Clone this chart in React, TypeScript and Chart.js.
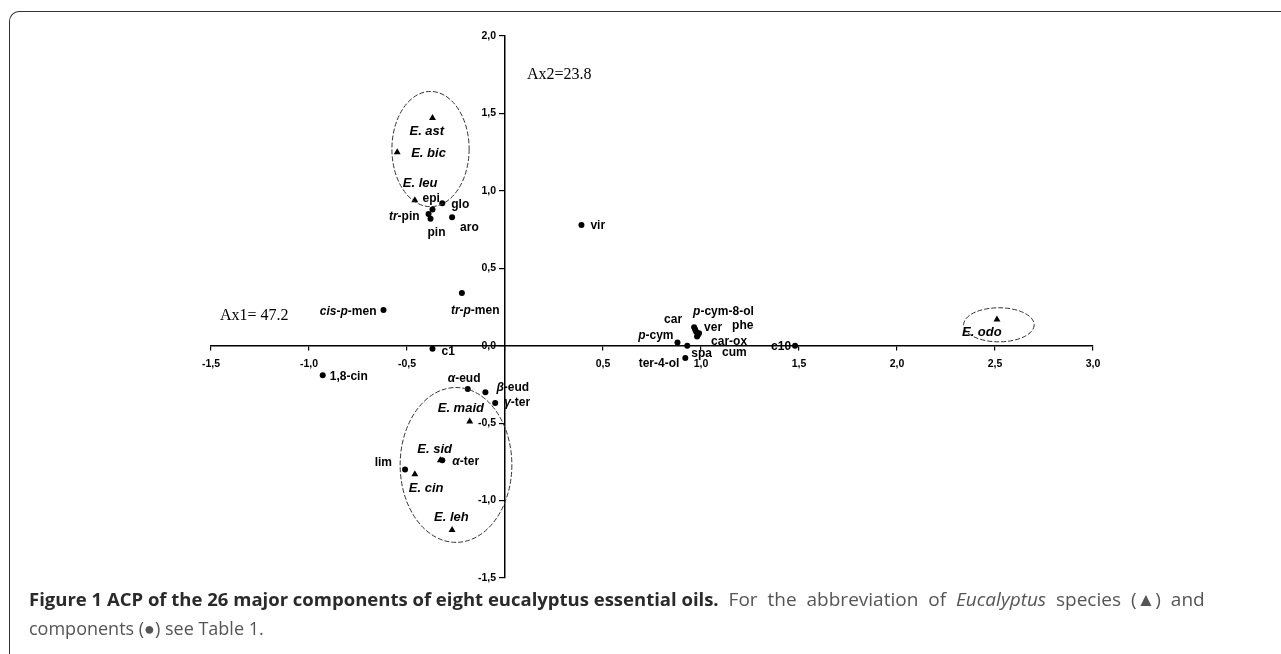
import React, { useEffect, useRef } from "react";
import { Chart, registerables } from "chart.js";

Chart.register(...registerables);

// ---- data ----
const xTicks = [-1.5, -1, -0.5, 0, 0.5, 1, 1.5, 2, 2.5, 3];
const yTicks = [-1.5, -1, -0.5, 0, 0.5, 1, 1.5, 2];

const speciesNames = ["E. ast", "E. bic", "E. leu", "E. maid", "E. sid", "E. cin", "E. leh", "E. odo"];
const speciesX = [-0.37, -0.55, -0.46, -0.18, -0.33, -0.46, -0.27, 2.51];
const speciesY = [1.47, 1.25, 0.94, -0.49, -0.74, -0.83, -1.19, 0.17];

// "_" toggles italic inside a label
const componentNames = [
  "epi", "glo", "_tr_-pin", "pin", "aro", "vir", "_tr_-_p_-men", "_cis_-_p_-men", "c1", "1,8-cin",
  "_α_-eud", "_β_-eud", "_γ_-ter", "_α_-ter", "lim", "_p_-cym", "spa", "ter-4-ol",
  "car", "_p_-cym-8-ol", "ver", "phe", "car-ox", "cum", "c10",
];
const componentX = [
  -0.37, -0.32, -0.39, -0.38, -0.27, 0.39, -0.22, -0.62, -0.37, -0.93,
  -0.19, -0.1, -0.05, -0.32, -0.51, 0.88, 0.93, 0.92,
  0.965, 0.97, 0.975, 0.985, 0.98, 0.99, 1.48,
];
const componentY = [
  0.88, 0.92, 0.85, 0.82, 0.83, 0.78, 0.34, 0.23, -0.02, -0.19,
  -0.28, -0.3, -0.37, -0.74, -0.8, 0.02, 0.0, -0.08,
  0.12, 0.105, 0.09, 0.07, 0.06, 0.08, 0.0,
];

// group ellipses (data units)
const ellipseCX = [-0.38, -0.25, 2.52];
const ellipseCY = [1.27, -0.77, 0.135];
const ellipseRX = [0.197, 0.285, 0.18];
const ellipseRY = [0.372, 0.5, 0.11];

// axis inertia notes
const noteTexts = ["Ax1= 47.2", "Ax2=23.8"];
const noteX = [-1.454, 0.112];
const noteY = [0.19, 1.75];

// label placement (pixel offsets from the mark), kept apart from the data
const speciesLabelPos: [number, number, string][] = [
  [-23, 13, "left"], [14, 1, "left"], [-12, -17, "left"], [-32, -13, "left"],
  [-23, -11, "left"], [-6, 14, "left"], [-18, -13, "left"], [-35, 13, "left"],
];
const componentLabelPos: [number, number, string][] = [
  [-10, -11, "left"], [9, 1, "left"], [-9, 3, "right"], [-3, 14, "left"], [8, 11, "left"],
  [9, 1, "left"], [-11, 18, "left"], [-7, 2, "right"], [9, 3, "left"], [7, 2, "left"],
  [-20, -10, "left"], [11, -4, "left"], [9, 0, "left"], [10, 1, "left"], [-13, -7, "right"],
  [-4, -7, "right"], [4, 8, "left"], [-6, 6, "right"],
  [-12, -7, "right"], [-2, -18, "left"], [8, -4, "left"], [34, -9, "left"], [14, 5, "left"],
  [23, 19, "left"], [-4, 1, "right"],
];

const fmt = (v: number) => v.toFixed(1).replace(".", ",");
const TICK_FONT = 'bold 10.5px "Liberation Sans", Arial, sans-serif';

function drawRich(ctx: CanvasRenderingContext2D, text: string, x: number, y: number, align: string, size: number, allItalic: boolean) {
  const parts = text.split("_");
  const fontFor = (it: boolean) => `${it ? "italic " : ""}bold ${size}px "Liberation Sans", Arial, sans-serif`;
  let total = 0;
  parts.forEach((p, i) => {
    ctx.font = fontFor(allItalic || i % 2 === 1);
    total += ctx.measureText(p).width;
  });
  let cx = align === "right" ? x - total : x;
  ctx.textAlign = "left";
  ctx.textBaseline = "middle";
  parts.forEach((p, i) => {
    ctx.font = fontFor(allItalic || i % 2 === 1);
    ctx.fillText(p, cx, y);
    cx += ctx.measureText(p).width;
  });
}

const overlayPlugin = {
  id: "overlay",
  afterDatasetsDraw(chart: any) {
    const ctx: CanvasRenderingContext2D = chart.ctx;
    const xs = chart.scales.x;
    const ys = chart.scales.y;
    ctx.save();
    // y tick labels, to the left of the centred axis
    ctx.fillStyle = "#000";
    ctx.font = TICK_FONT;
    ctx.textAlign = "right";
    ctx.textBaseline = "middle";
    const axisX = xs.getPixelForValue(0);
    ys.ticks.forEach((t: any) => {
      ctx.fillText(fmt(t.value), axisX - 9, ys.getPixelForValue(t.value));
    });
    // ellipses
    ctx.strokeStyle = "#333";
    ctx.lineWidth = 1;
    ctx.setLineDash([5, 2]);
    for (let i = 0; i < ellipseCX.length; i++) {
      const cx = xs.getPixelForValue(ellipseCX[i]);
      const cy = ys.getPixelForValue(ellipseCY[i]);
      const rx = Math.abs(xs.getPixelForValue(ellipseCX[i] + ellipseRX[i]) - cx);
      const ry = Math.abs(ys.getPixelForValue(ellipseCY[i] + ellipseRY[i]) - cy);
      ctx.beginPath();
      ctx.ellipse(cx, cy, rx, ry, 0, 0, Math.PI * 2);
      ctx.stroke();
    }
    ctx.setLineDash([]);
    // species labels
    const m0 = chart.getDatasetMeta(0);
    m0.data.forEach((el: any, i: number) => {
      const [dx, dy, al] = speciesLabelPos[i];
      drawRich(ctx, speciesNames[i], el.x + dx, el.y + dy, al, 13, true);
    });
    const m1 = chart.getDatasetMeta(1);
    m1.data.forEach((el: any, i: number) => {
      const [dx, dy, al] = componentLabelPos[i];
      drawRich(ctx, componentNames[i], el.x + dx, el.y + dy, al, 12, false);
    });
    // notes
    ctx.font = '16px "Liberation Serif", "Times New Roman", serif';
    ctx.textAlign = "left";
    ctx.textBaseline = "middle";
    noteTexts.forEach((t, i) => {
      ctx.fillText(t, xs.getPixelForValue(noteX[i]), ys.getPixelForValue(noteY[i]));
    });
    ctx.restore();
  },
};

export default function App() {
  const ref = useRef<HTMLCanvasElement>(null);
  useEffect(() => {
    if (!ref.current) return;
    const tickFont = { family: '"Liberation Sans", Arial, sans-serif', size: 10.5, weight: "bold" as const };
    const chart = new Chart(ref.current, {
      type: "scatter",
      data: {
        datasets: [
          {
            label: "species",
            data: speciesX.map((x, i) => ({ x, y: speciesY[i] })),
            pointStyle: "triangle",
            pointRadius: 4,
            backgroundColor: "#000",
            borderColor: "#000",
            borderWidth: 0,
            clip: false as any,
          },
          {
            label: "components",
            data: componentX.map((x, i) => ({ x, y: componentY[i] })),
            pointStyle: "circle",
            pointRadius: 3,
            backgroundColor: "#000",
            borderColor: "#000",
            borderWidth: 0,
            clip: false as any,
          },
        ],
      },
      options: {
        animation: false,
        responsive: false,
        maintainAspectRatio: false,
        layout: { padding: { left: 211, right: 188, top: 36, bottom: 12 } },
        plugins: { legend: { display: false }, tooltip: { enabled: false } },
        scales: {
          x: {
            type: "linear",
            min: -1.5,
            max: 3,
            position: { y: 0 } as any,
            afterBuildTicks: (s: any) => {
              s.ticks = xTicks.map((v) => ({ value: v }));
            },
            ticks: {
              callback: (v: any) => (Number(v) === 0 ? "" : fmt(Number(v))),
              font: tickFont,
              color: "#000",
              maxRotation: 0,
              autoSkip: false,
              padding: 8,
            },
            grid: { display: true, drawOnChartArea: false, drawTicks: true, tickLength: 4, color: "#000", lineWidth: 1.2 },
            border: { display: true, color: "#000", width: 1.5 },
          },
          y: {
            type: "linear",
            min: -1.5,
            max: 2,
            position: { x: 0 } as any,
            afterBuildTicks: (s: any) => {
              s.ticks = yTicks.map((v) => ({ value: v }));
            },
            ticks: { display: false, font: tickFont, autoSkip: false },
            grid: { display: true, drawOnChartArea: false, drawTicks: true, tickLength: 5, color: "#000", lineWidth: 1.2 },
            border: { display: true, color: "#000", width: 1.5 },
          },
        },
      },
      plugins: [overlayPlugin],
    });
    return () => chart.destroy();
  }, []);

  const capFont: React.CSSProperties = {
    fontFamily: '"Open Sans", sans-serif',
    fontSize: 19,
    lineHeight: "29px",
    color: "#555",
    whiteSpace: "nowrap",
  };

  return (
    <div style={{ position: "absolute", left: 0, top: 0, width: 1281, height: 654, overflow: "hidden", background: "#fff" }}>
      <div
        style={{
          position: "absolute",
          left: 9,
          top: 11,
          width: 1400,
          height: 800,
          borderLeft: "1.5px solid #333",
          borderTop: "1.5px solid #333",
          borderTopLeftRadius: 10,
        }}
      />
      <canvas ref={ref} width={1281} height={590} style={{ position: "absolute", left: 0, top: 0 }} />
      <div style={{ position: "absolute", left: 29, top: 584 }}>
        <div style={capFont}>
          <b style={{ color: "#2a2a2a", fontSize: 18.5 }}>
            Figure 1 ACP of the 26 major components of eight eucalyptus essential oils.
          </b>
          <span style={{ wordSpacing: 5 }}>
            {" "}For the abbreviation of <i>Eucalyptus</i> species (▲) and
          </span>
        </div>
        <div style={{ ...capFont, fontSize: 18 }}>components (●) see Table 1.</div>
      </div>
    </div>
  );
}
